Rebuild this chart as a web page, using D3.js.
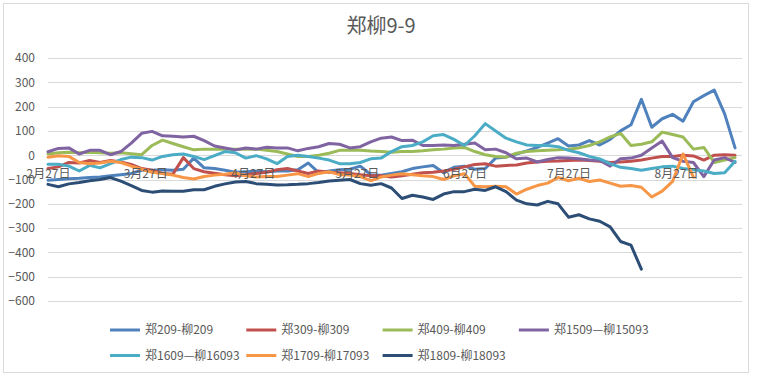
<!DOCTYPE html>
<html><head><meta charset="utf-8">
<script src="https://cdn.jsdelivr.net/npm/d3@7"></script>
<style>
body{margin:0;background:#fff;}
svg{display:block;font-family:"Noto Sans CJK SC","Noto Sans",sans-serif;}
</style>
</head><body>
<svg id="chart" width="761" height="378"></svg>
<script>
const dates = ["2018-02-27","2018-03-02","2018-03-05","2018-03-08","2018-03-11","2018-03-14","2018-03-17","2018-03-20","2018-03-23","2018-03-26","2018-03-29",
"2018-04-01","2018-04-04","2018-04-07","2018-04-10","2018-04-13","2018-04-16","2018-04-19","2018-04-22","2018-04-25","2018-04-28",
"2018-05-01","2018-05-04","2018-05-07","2018-05-10","2018-05-13","2018-05-16","2018-05-19","2018-05-22","2018-05-25","2018-05-28","2018-05-31",
"2018-06-03","2018-06-06","2018-06-09","2018-06-12","2018-06-15","2018-06-18","2018-06-21","2018-06-24","2018-06-27","2018-06-30",
"2018-07-03","2018-07-06","2018-07-09","2018-07-12","2018-07-15","2018-07-18","2018-07-21","2018-07-24","2018-07-27","2018-07-30",
"2018-08-02","2018-08-05","2018-08-08","2018-08-11","2018-08-14","2018-08-17","2018-08-20","2018-08-23","2018-08-26","2018-08-29",
"2018-09-01","2018-09-04","2018-09-07","2018-09-10","2018-09-13"];

const seriesNames = ["郑209-柳209","郑309-柳309","郑409-柳409","郑1509—柳15093","郑1609—柳16093","郑1709-柳17093","郑1809-柳18093"];

const s209 = [-103,-100,-97,-95,-92,-90,-85,-80,-75,-62,-62,-60,-62,-58,-12,-52,-55,-62,-70,-68,-66,-68,-65,-65,-60,-32,-72,-65,-60,-58,-45,-80,-82,-75,-68,-55,-48,-42,-72,-50,-45,-58,-55,-12,-8,5,18,32,50,68,38,42,60,42,65,100,125,230,115,150,168,140,220,245,268,170,30];
const s309 = [-55,-48,-30,-32,-22,-30,-22,-28,-38,-55,-62,-75,-78,-10,-55,-68,-74,-80,-85,-80,-75,-70,-60,-55,-65,-75,-65,-70,-72,-75,-80,-85,-85,-90,-85,-78,-72,-70,-65,-58,-48,-38,-35,-45,-42,-40,-32,-28,-25,-24,-22,-20,-22,-25,-30,-28,-25,-20,-12,-5,-5,0,-3,-20,0,2,0];
const s409 = [5,10,12,10,12,10,8,10,6,2,40,62,48,35,22,25,25,25,25,25,25,20,15,5,-5,-5,0,8,20,20,20,17,15,12,15,15,18,22,25,30,32,15,2,-5,-8,8,15,18,20,22,25,30,40,55,75,90,40,45,55,95,85,75,25,32,-30,-20,-10];
const s1509 = [14,28,30,5,20,20,2,15,50,90,98,80,78,75,78,60,38,30,22,30,25,33,30,30,18,28,35,48,45,30,35,55,70,75,60,62,40,40,42,40,45,50,22,25,10,-15,-12,-28,-18,-10,-12,-15,-20,-22,-45,-15,-12,0,30,58,-10,-25,-30,-88,-20,-10,-30];
const s1609 = [-37,-37,-45,-65,-42,-52,-35,-18,-8,-10,-20,-5,2,5,-5,-18,-2,15,10,-12,-2,-15,-35,-5,0,-5,-12,-20,-35,-35,-30,-15,-12,15,35,40,55,80,85,65,40,80,130,100,70,55,42,40,40,35,20,10,-5,-15,-35,-50,-55,-62,-55,-48,-45,-55,-60,-65,-75,-72,-25];
const s1709 = [-8,-2,-5,-30,-35,-32,-25,-30,-45,-58,-70,-75,-82,-92,-98,-88,-82,-78,-72,-85,-90,-88,-88,-82,-76,-88,-75,-68,-80,-82,-88,-105,-90,-82,-76,-80,-85,-88,-100,-85,-76,-128,-130,-128,-130,-160,-140,-125,-115,-92,-105,-95,-108,-102,-115,-128,-125,-132,-172,-148,-108,5,-90,null,null,null,null];
const s1809 = [-120,-130,-118,-112,-105,-100,-92,-107,-125,-145,-152,-147,-148,-148,-142,-142,-128,-118,-110,-108,-117,-120,-123,-122,-120,-117,-112,-106,-103,-100,-117,-124,-117,-135,-178,-165,-172,-182,-160,-150,-150,-140,-145,-130,-150,-185,-200,-205,-190,-200,-255,-245,-262,-272,-295,-355,-370,-469,null,null,null,null,null,null,null,null,null];

const yTicks = [400,300,200,100,0,-100,-200,-300,-400,-500,-600];
const xTickDates = ["2018-02-27","2018-03-27","2018-04-27","2018-05-27","2018-06-27","2018-07-27","2018-08-27"];
const xTickLabels = ["2月27日","3月27日","4月27日","5月27日","6月27日","7月27日","8月27日"];
const colors = ["#4F81BD","#C0504D","#9BBB59","#8064A2","#4BACC6","#F79646","#2C4D75"];

(function(){
const allSeries = [s209,s309,s409,s1509,s1609,s1709,s1809];
const parse = d3.timeParse("%Y-%m-%d");
const dateObjs = dates.map(parse);

const svg = d3.select("#chart");
const pLeft = 48, pRight = 742, pTop = 58, pBottom = 301;

svg.append("rect").attr("x",3.5).attr("y",3.5).attr("width",745).attr("height",369)
  .attr("fill","#fff").attr("stroke","#D9D9D9").attr("stroke-width",1);

const x = d3.scaleTime().domain([parse("2018-02-27"), parse("2018-09-15")]).range([pLeft, pRight]);
const y = d3.scaleLinear().domain([-600, 400]).range([pBottom, pTop]);

svg.append("g").selectAll("line").data(yTicks).join("line")
  .attr("x1",pLeft).attr("x2",pRight)
  .attr("y1",d=>Math.round(y(d))+0.5).attr("y2",d=>Math.round(y(d))+0.5)
  .attr("stroke","#D9D9D9").attr("stroke-width",1);

const yAxis = svg.append("g").attr("transform",`translate(${pLeft},0)`)
  .call(d3.axisLeft(y).tickValues(yTicks).tickSize(0).tickPadding(13).tickFormat(d3.format("d")));
yAxis.select(".domain").remove();
yAxis.selectAll("text").attr("fill","#595959").attr("font-size",12)
  .style("font-family",'"Noto Sans CJK SC","Noto Sans",sans-serif');

const line = d3.line().defined(d=>d.v!==null).x(d=>x(d.d)).y(d=>y(d.v));
const g = svg.append("g");
allSeries.forEach((s,i)=>{
  const pts = s.map((v,j)=>({d:dateObjs[j], v:v}));
  g.append("path").attr("d",line(pts)).attr("fill","none")
    .attr("stroke",colors[i]).attr("stroke-width",3)
    .attr("stroke-linejoin","round").attr("stroke-linecap","round");
});

const xAxis = svg.append("g").attr("transform",`translate(0,${y(0)})`)
  .call(d3.axisBottom(x).tickValues(xTickDates.map(parse)).tickSize(0).tickPadding(14)
    .tickFormat((d,i)=>xTickLabels[i]));
xAxis.select(".domain").remove();
xAxis.selectAll("text").attr("fill","#595959").attr("font-size",12)
  .style("font-family",'"Noto Sans CJK SC","Noto Sans",sans-serif');

svg.append("text").attr("x",381).attr("y",33).attr("text-anchor","middle")
  .attr("font-size",20).attr("fill","#595959").text("郑柳9-9");

const legend = svg.append("g");
seriesNames.forEach((n,i)=>{
  const row = i < 4 ? 0 : 1;
  const col = i < 4 ? i : i-4;
  const lx = 110 + col*136.3;
  const ly = row===0 ? 330 : 355.5;
  legend.append("line").attr("x1",lx).attr("x2",lx+30).attr("y1",ly).attr("y2",ly)
    .attr("stroke",colors[i]).attr("stroke-width",3);
  legend.append("text").attr("x",lx+35).attr("y",ly).attr("dy","0.36em")
    .attr("font-size",12).attr("fill","#595959").text(n);
});
})();
</script>
</body></html>
